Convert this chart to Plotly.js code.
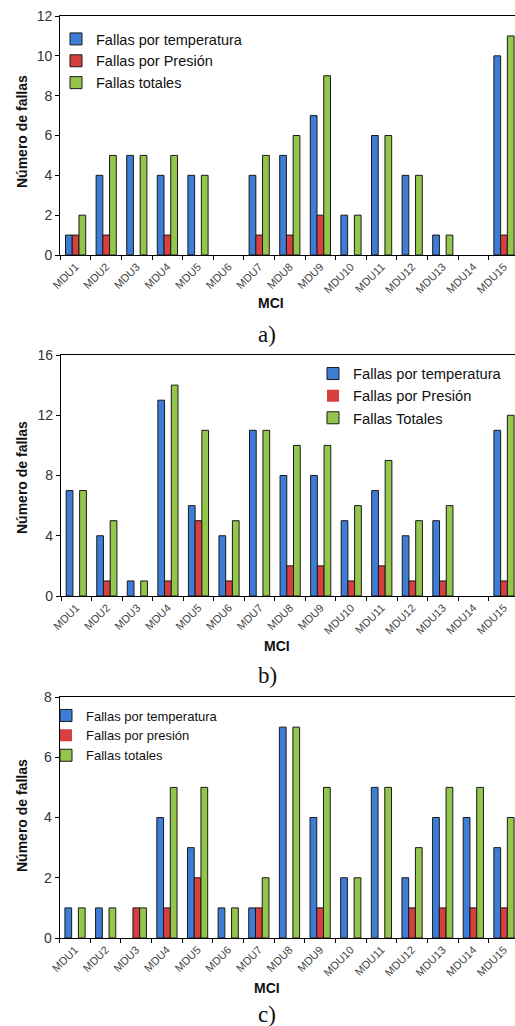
<!DOCTYPE html>
<html>
<head>
<meta charset="utf-8">
<script src="https://cdn.plot.ly/plotly-3.0.1.min.js"></script>
<style>
  html, body { margin: 0; padding: 0; background: #fff; }
  #chartBox { width: 515px; height: 1026px; }
</style>
</head>
<body>
<div id="chartBox"></div>
<script>
// categorias (MCI)
const mdus = ['MDU1', 'MDU2', 'MDU3', 'MDU4', 'MDU5', 'MDU6', 'MDU7', 'MDU8',
    'MDU9', 'MDU10', 'MDU11', 'MDU12', 'MDU13', 'MDU14', 'MDU15'];

// a)
const tempA = [1, 4, 5, 4, 4, 0, 4, 5, 7, 2, 6, 4, 1, 0, 10];
const presA = [1, 1, 0, 1, 0, 0, 1, 1, 2, 0, 0, 0, 0, 0, 1];
const totA = [2, 5, 5, 5, 4, 0, 5, 6, 9, 2, 6, 4, 1, 0, 11];
const namesA = ['Fallas por temperatura', 'Fallas por Presión', 'Fallas totales'];

// b)
const tempB = [7, 4, 1, 13, 6, 4, 11, 8, 8, 5, 7, 4, 5, 0, 11];
const presB = [0, 1, 0, 1, 5, 1, 0, 2, 2, 1, 2, 1, 1, 0, 1];
const totB = [7, 5, 1, 14, 11, 5, 11, 10, 10, 6, 9, 5, 6, 0, 12];
const namesB = ['Fallas por temperatura', 'Fallas por Presión', 'Fallas Totales'];

// c)
const tempC = [1, 1, 0, 4, 3, 1, 1, 7, 4, 2, 5, 2, 4, 4, 3];
const presC = [0, 0, 1, 1, 2, 0, 1, 0, 1, 0, 0, 1, 1, 1, 1];
const totC = [1, 1, 1, 5, 5, 1, 2, 7, 5, 2, 5, 3, 5, 5, 4];
const namesC = ['Fallas por temperatura', 'Fallas por presión', 'Fallas totales'];

const colors = ['#3d7dd6', '#d83f3f', '#93c64b'];

const W = 515, H = 1026;
const px = x => x / W;
const py = y => 1 - y / H;

// paneles: serie, nombres, eje, leyenda
const panels = [
    { series: [tempA, presA, totA], names: namesA, ax: '', leg: 'legend' },
    { series: [tempB, presB, totB], names: namesB, ax: '2', leg: 'legend2' },
    { series: [tempC, presC, totC], names: namesC, ax: '3', leg: 'legend3' },
];

const data = [];
panels.forEach(p => {
    p.series.forEach((vals, i) => {
        data.push({
            type: 'bar',
            x: mdus,
            y: vals,
            name: p.names[i],
            xaxis: 'x' + p.ax,
            yaxis: 'y' + p.ax,
            legend: p.leg,
            marker: {
                color: colors[i],
                // sin borde en barras vacias
                line: { color: '#1a1a1a', width: vals.map(v => v ? 1 : 0) },
            },
        });
    });
});

const xBase = {
    type: 'category',
    range: [-0.5, 14.36],
    showline: true,
    mirror: true,
    linecolor: '#000',
    linewidth: 1.2,
    ticks: 'outside',
    tickson: 'boundaries',
    ticklen: 4,
    tickcolor: '#000',
    tickangle: -45,
    tickfont: { family: 'Liberation Sans, Arial', size: 11, color: '#444' },
    showgrid: false,
    fixedrange: true,
};
const yBase = {
    showline: true,
    linecolor: '#000',
    linewidth: 1.2,
    ticks: 'outside',
    ticklen: 4,
    tickcolor: '#000',
    tickfont: { family: 'Liberation Sans, Arial', size: 14, color: '#333' },
    showgrid: false,
    zeroline: false,
    fixedrange: true,
};

const legBase = {
    xanchor: 'left',
    yanchor: 'top',
    bgcolor: 'rgba(0,0,0,0)',
    borderwidth: 0,
    tracegroupgap: 0,
};

const txt = { family: 'Liberation Sans, Arial', color: '#111' };
const cap = { family: 'Liberation Serif, DejaVu Serif, serif', size: 23, color: '#111' };

const layout = {
    width: W,
    height: H,
    margin: { l: 0, r: 0, t: 0, b: 0 },
    paper_bgcolor: '#fff',
    plot_bgcolor: '#fff',
    barmode: 'group',
    bargap: 0.34,
    bargroupgap: 0,
    showlegend: true,

    xaxis: { ...xBase, domain: [px(60.3), 1], anchor: 'y' },
    yaxis: { ...yBase, domain: [py(255), py(16)], range: [0, 12], dtick: 2, anchor: 'x' },
    xaxis2: { ...xBase, domain: [px(61), 1], anchor: 'y2' },
    yaxis2: { ...yBase, domain: [py(596), py(355)], range: [0, 16], dtick: 4, anchor: 'x2' },
    xaxis3: { ...xBase, domain: [px(59.7), 1], anchor: 'y3' },
    yaxis3: { ...yBase, domain: [py(938), py(697)], range: [0, 8], dtick: 2, anchor: 'x3' },

    legend: { ...legBase, x: px(56), y: py(23), font: { ...txt, size: 14.5 } },
    legend2: { ...legBase, x: px(313), y: py(357.5), font: { ...txt, size: 14.7 } },
    legend3: { ...legBase, x: px(46), y: py(700.5), font: { ...txt, size: 13 } },

    annotations: [
        // titulos de ejes
        { text: '<b>Número de fallas</b>', x: px(22), y: py(132), textangle: -90 },
        { text: '<b>Número de fallas</b>', x: px(22), y: py(478), textangle: -90 },
        { text: '<b>Número de fallas</b>', x: px(22), y: py(816), textangle: -90 },
        { text: '<b>MCI</b>', x: px(271), y: py(303) },
        { text: '<b>MCI</b>', x: px(277), y: py(646) },
        { text: '<b>MCI</b>', x: px(267), y: py(988) },
        // subtitulos
        { text: 'a)', x: px(267), y: py(335), font: cap },
        { text: 'b)', x: px(267), y: py(675), font: cap },
        { text: 'c)', x: px(267), y: py(1014), font: cap },
    ].map(a => ({
        xref: 'paper', yref: 'paper', showarrow: false,
        xanchor: 'center', yanchor: 'middle',
        font: { ...txt, size: 14 },
        ...a,
    })),
};

Plotly.newPlot('chartBox', data, layout, { staticPlot: true });
</script>
</body>
</html>
